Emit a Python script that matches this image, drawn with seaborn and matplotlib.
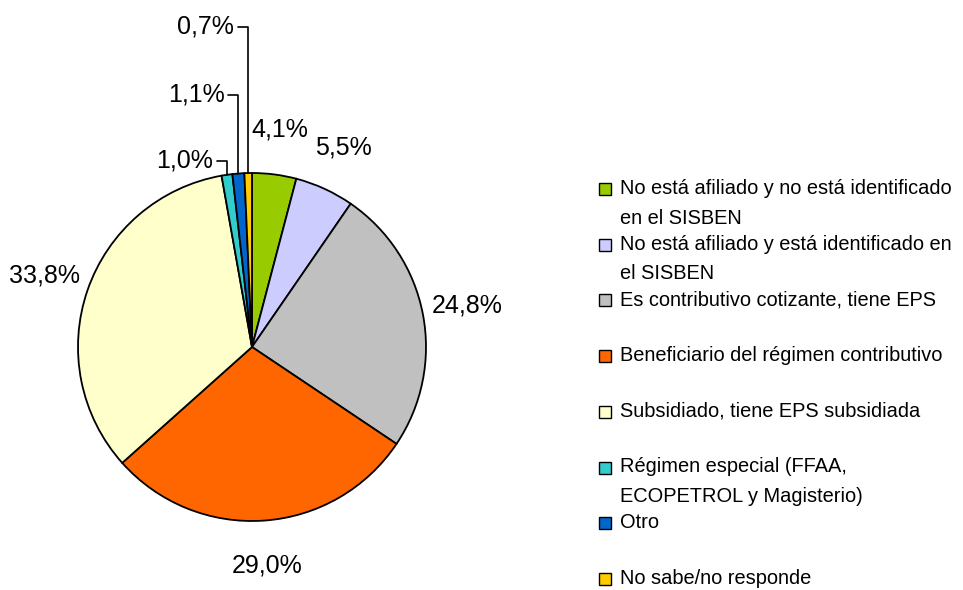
import numpy as np
import matplotlib
matplotlib.use('Agg')
import matplotlib.pyplot as plt
import seaborn as sns
from matplotlib.patches import Rectangle

# === DONNÉES ===
categorias = [
    "No está afiliado y no está identificado\nen el SISBEN",
    "No está afiliado y está identificado en\nel SISBEN",
    "Es contributivo cotizante, tiene EPS",
    "Beneficiario del régimen contributivo",
    "Subsidiado, tiene EPS subsidiada",
    "Régimen especial (FFAA,\nECOPETROL y Magisterio)",
    "Otro",
    "No sabe/no responde",
]
porcentajes = [4.1, 5.5, 24.8, 29.0, 33.8, 1.0, 1.1, 0.7]
etiquetas = ["4,1%", "5,5%", "24,8%", "29,0%", "33,8%", "1,0%", "1,1%", "0,7%"]
colores = ["#99CC00", "#CCCCFF", "#C0C0C0", "#FF6600", "#FFFFCC", "#33CCCC", "#0066CC", "#FFCC00"]

# hauteur (en rayons) des étiquettes des petites parts, avec ligne de rappel
hauteur_rappel = {5: 1.07, 6: 1.45, 7: 1.84}

# === STYLE ===
sns.set_theme(style="white")
plt.rcParams["font.family"] = ["Liberation Sans", "DejaVu Sans"]

W, H = 963, 590
fig = plt.figure(figsize=(W / 100, H / 100), dpi=100)
fig.patch.set_facecolor("white")

# pie : centre (252, 347) px, rayon 174 px
cx, cy, R = 252, 347, 174
ax = fig.add_axes([(cx - R) / W, (H - cy - R) / H, 2 * R / W, 2 * R / H])

wedges, _ = ax.pie(
    porcentajes,
    colors=sns.color_palette(colores),
    startangle=90,
    counterclock=False,
    radius=1.0,
    wedgeprops=dict(edgecolor="black", linewidth=1.3),
)
ax.set_xlim(-1, 1)
ax.set_ylim(-1, 1)
ax.set_aspect("equal")
ax.axis("off")

for i, (w, lab) in enumerate(zip(wedges, etiquetas)):
    ang = np.deg2rad((w.theta1 + w.theta2) / 2)
    if i in hauteur_rappel:
        xe, ye = np.cos(ang), np.sin(ang)
        yl = hauteur_rappel[i]
        xl = xe - 0.06
        ax.plot([xe, xe, xl], [ye, yl, yl], color="black", lw=1.2, clip_on=False)
        ax.text(xl - 0.02, yl, lab, ha="right", va="center", fontsize=18, color="black")
    else:
        d = 1.26
        ax.text(d * np.cos(ang), d * np.sin(ang), lab, ha="center", va="center",
                fontsize=18, color="black")

# === LÉGENDE (dessinée à la main, pas régulier) ===
leg_x, leg_top, leg_pas, carre = 605, 189, 55.7, 12
for i, (cat, col) in enumerate(zip(categorias, colores)):
    y = leg_top + i * leg_pas
    fig.patches.append(Rectangle(((leg_x - carre / 2) / W, (H - y - carre / 2) / H),
                                 carre / W, carre / H, transform=fig.transFigure,
                                 facecolor=col, edgecolor="black", lw=1.0))
    fig.text((leg_x + 15) / W, (H - y + 10) / H, cat, ha="left", va="top",
             fontsize=14.4, linespacing=1.7, color="black")

plt.savefig("out.png", dpi=100)
plt.close()
